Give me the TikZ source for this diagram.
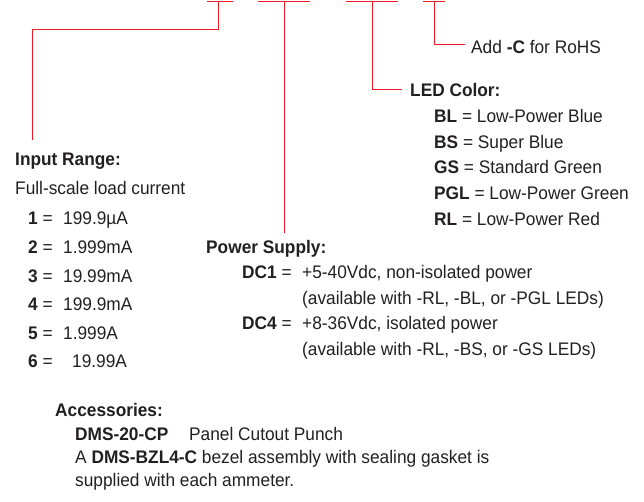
\documentclass[tikz,border=0pt]{standalone}
\usepackage{fontspec}
\setmainfont[FakeStretch=0.95]{Liberation Sans}
\definecolor{lred}{RGB}{237,28,36}
\definecolor{ink}{RGB}{35,31,32}
\begin{document}
\begin{tikzpicture}[x=1pt,y=-1pt,
  txt/.style={anchor=base west, inner sep=0pt, font=\fontsize{18.2}{20}\selectfont, text=ink},
  lead/.style={draw=lred, line width=1pt},
  bar/.style={draw=lred, line width=1.6pt}]
\useasboundingbox (0,0) rectangle (644,502);

% ---- texts: LED colour / RoHS
\node[txt] (addc) at (471,54) {Add \textbf{-C} for RoHS};
\node[txt] (led) at (410,97) {\textbf{LED Color:}};
\node[txt] (bl)  at (434,123)   {\textbf{BL} = Low-Power Blue};
\node[txt] (bs)  at (434,148.5) {\textbf{BS} = Super Blue};
\node[txt] (gs)  at (434,174)   {\textbf{GS} = Standard Green};
\node[txt] (pgl) at (434,200)   {\textbf{PGL} = Low-Power Green};
\node[txt] (rl)  at (434,226)   {\textbf{RL} = Low-Power Red};

% ---- input range
\node[txt] (inr) at (15,166) {\textbf{Input Range:}};
\node[txt] (fsl) at (15,195) {Full-scale load current};
\node[txt] (r1) at (28,225)   {\makebox[35pt][l]{\textbf{1} =}199.9µA};
\node[txt] (r2) at (28,253.5) {\makebox[35pt][l]{\textbf{2} =}1.999mA};
\node[txt] (r3) at (28,282)   {\makebox[35pt][l]{\textbf{3} =}19.99mA};
\node[txt] (r4) at (28,310.5) {\makebox[35pt][l]{\textbf{4} =}199.9mA};
\node[txt] (r5) at (28,339)   {\makebox[35pt][l]{\textbf{5} =}1.999A};
\node[txt] (r6) at (28,367.5) {\makebox[44pt][l]{\textbf{6} =}19.99A};

% ---- power supply
\node[txt] (pws) at (206,254) {\textbf{Power Supply:}};
\node[txt] (dc1) at (242,278.5) {\makebox[60pt][l]{\textbf{DC1} =}+5-40Vdc, non-isolated power};
\node[txt] (av1) at (302,304) {(available with -RL, -BL, or -PGL LEDs)};
\node[txt] (dc4) at (242,329.5) {\makebox[60pt][l]{\textbf{DC4} =}+8-36Vdc, isolated power};
\node[txt] (av4) at (302,355) {(available with -RL, -BS, or -GS LEDs)};

% ---- accessories
\node[txt] (acc) at (55,416) {\textbf{Accessories:}};
\node[txt] (cp)  at (75,440) {\makebox[114pt][l]{\textbf{DMS-20-CP}}Panel Cutout Punch};
\node[txt] (bzl) at (75,463) {A \textbf{DMS-BZL4-C} bezel assembly with sealing gasket is};
\node[txt] (sup) at (75,486) {supplied with each ammeter.};

% ---- red leader bars
\coordinate (b1l) at (207,1.5); \coordinate (b1r) at (233,1.5); \coordinate (b1m) at (218,1.5);
\coordinate (b2l) at (258,1.5); \coordinate (b2r) at (310,1.5); \coordinate (b2m) at (284,1.5);
\coordinate (b3l) at (346,1.5); \coordinate (b3r) at (398,1.5); \coordinate (b3m) at (372,1.5);
\coordinate (b4l) at (423,1.5); \coordinate (b4r) at (445,1.5); \coordinate (b4m) at (434,1.5);
\draw[bar] (b1l) -- (b1r);
\draw[bar] (b2l) -- (b2r);
\draw[bar] (b3l) -- (b3r);
\draw[bar] (b4l) -- (b4r);

% ---- leaders
\coordinate (e1a) at (218,30); \coordinate (e1b) at (32.5,30); \coordinate (t1) at (32.5,140);
\draw[lead] (b1m) -- (e1a) -- (e1b) -- (t1);
\coordinate (t2) at (284,233);
\draw[lead] (b2m) -- (t2);
\coordinate (e3) at (372,90); \coordinate (t3) at (402,90);
\draw[lead] (b3m) -- (e3) -- (t3);
\coordinate (e4) at (434,45); \coordinate (t4) at (465,45);
\draw[lead] (b4m) -- (e4) -- (t4);
\end{tikzpicture}
\end{document}
